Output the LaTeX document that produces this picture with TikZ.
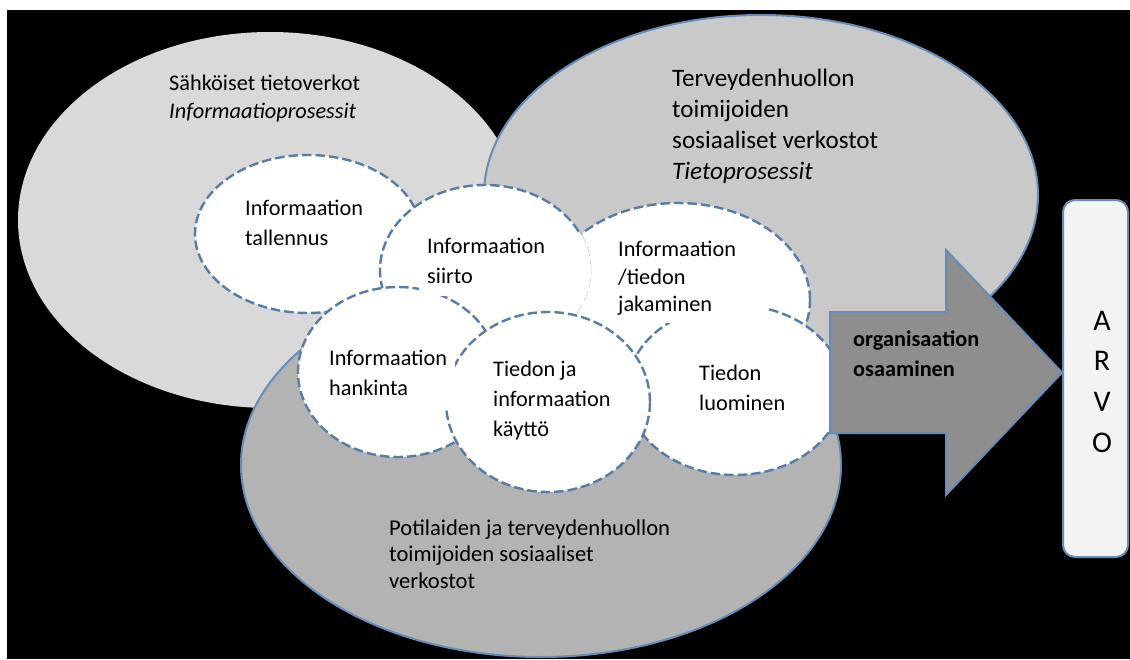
\documentclass[tikz,border=0pt]{standalone}
\usepackage{fontspec}
\setmainfont{Carlito}
\usetikzlibrary{shapes.geometric}
\definecolor{edgeblue}{RGB}{104,140,184}
\definecolor{dashblue}{RGB}{88,124,166}
\definecolor{lgray}{RGB}{217,217,217}
\definecolor{mgray}{RGB}{201,201,201}
\definecolor{dgray}{RGB}{179,179,179}
\definecolor{agray}{RGB}{142,142,142}
\definecolor{boxfill}{RGB}{243,243,243}
\newcommand\fsz[1]{\fontsize{22.3}{#1}\selectfont}
\begin{document}
\begin{tikzpicture}[x=1pt,y=-1pt,
  bigell/.style={ellipse, inner sep=0pt, line width=2pt},
  dashell/.style={ellipse, inner sep=0pt, fill=white, draw=dashblue, line width=2.4pt, dash pattern=on 9.5pt off 4pt},
  lbl/.style={anchor=north west, inner sep=0pt, align=left},
  boxlbl/.style={anchor=north west, inner xsep=8pt, inner ysep=3pt, fill=white, align=left}]
\useasboundingbox (0,0) rectangle (1130,659);
\fill[white] (0,0) rectangle (1130,659);
\fill[black] (7,10) rectangle (1130,659);
% large background ellipses
\node[bigell, fill=lgray, minimum width=504pt, minimum height=376pt] (eleft) at (270,220) {};
\node[bigell, fill=mgray, draw=edgeblue, minimum width=554pt, minimum height=360pt] (eright) at (761,195) {};
\node[bigell, fill=dgray, draw=edgeblue, minimum width=600pt, minimum height=384pt] (ebottom) at (541,465) {};
% dashed process ellipses
\node[dashell, minimum width=226pt, minimum height=158pt] (ctal) at (308,234) {};
\node[dashell, minimum width=264pt, minimum height=194pt] (cjak) at (678,300) {};
\node[dashell, minimum width=210pt, minimum height=170pt] (csii) at (485,270) {};
\begin{scope}
  \clip (485,270) ellipse [x radius=106pt, y radius=86pt];
  \fill[white] (678,300) ellipse [x radius=133pt, y radius=98pt];
\end{scope}
\node[dashell, minimum width=200pt, minimum height=170pt] (chan) at (398,372) {};
\node[dashell, minimum width=216pt, minimum height=170pt] (cluo) at (735,390) {};
\node[dashell, minimum width=204pt, minimum height=180pt] (ckay) at (548,402) {};
% arrow
\filldraw[fill=agray, draw=edgeblue, line width=2pt, line join=miter]
  (830,312) -- (946,312) -- (946,250) -- (1062,372.5) -- (946,495) -- (946,433) -- (830,433) -- cycle;
% ARVO box
\node[draw=edgeblue, fill=boxfill, line width=2pt, rounded corners=12pt, minimum width=65pt, minimum height=357pt, inner sep=0pt] (arvo) at (1095.5,378.5) {};
% texts on large ellipses
\node[lbl, font={\fsz{27.5}}] (tleft) at (169,71.4) {\strut S\"ahk\"oiset tietoverkot\\\strut\textit{Informaatioprosessit}};
\node[lbl, font={\fontsize{25.1}{31}\selectfont}] (tright) at (672,65) {\strut Terveydenhuollon\\\strut toimijoiden\\\strut sosiaaliset verkostot\\\strut\textit{Tietoprosessit}};
\node[lbl, font={\fontsize{22.6}{26.7}\selectfont}] (tbottom) at (389,516.3) {\strut Potilaiden ja terveydenhuollon\\\strut toimijoiden sosiaaliset\\\strut verkostot};
% texts in dashed ellipses
\node[boxlbl, font={\fsz{30}}] (ttal) at (237,191) {\strut Informaation\\\strut tallennus};
\node[boxlbl, font={\fsz{30}}] (tsii) at (419,229.3) {\strut Informaation\\\strut siirto};
\node[boxlbl, font={\fsz{27.5}}, text width=142pt] (tjak) at (610,234.4) {\strut Informaation\\\strut /tiedon\\\strut jakaminen};
\node[boxlbl, font={\fsz{30}}] (than) at (321,341) {\strut Informaation\\\strut hankinta};
\node[boxlbl, font={\fsz{30}}] (tkay) at (485,352.7) {\strut Tiedon ja\\\strut informaation\\\strut k\"aytt\"o};
\node[boxlbl, font={\fsz{30}}] (tluo) at (691,356) {\strut Tiedon\\\strut luominen};
% arrow text
\node[lbl, font={\fsz{30}\bfseries}] (tarrow) at (853,325.7) {\strut organisaation\\\strut osaaminen};
% ARVO text
\node[anchor=north, inner sep=0pt, align=center, font={\fontsize{30}{40.7}\selectfont}] (tarvo) at (1102,301.5) {\strut A\\\strut R\\\strut V\\\strut O};
\end{tikzpicture}
\end{document}
